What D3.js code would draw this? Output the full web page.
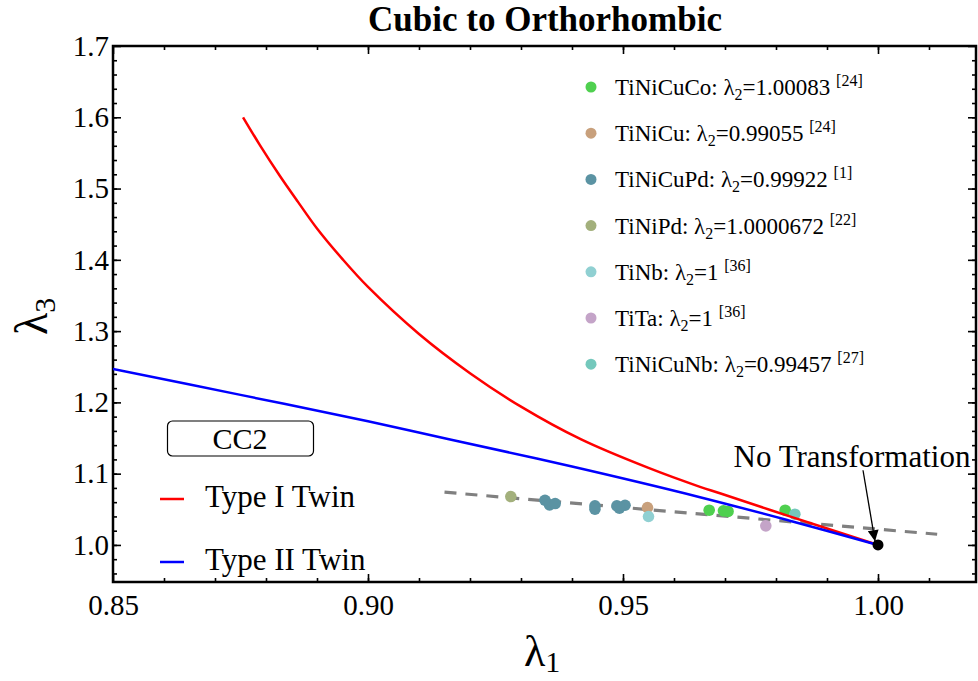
<!DOCTYPE html>
<html>
<head>
<meta charset="utf-8">
<title>Cubic to Orthorhombic</title>
<script src="https://cdn.jsdelivr.net/npm/d3@7"></script>
<style>
    body{ margin:0; background:#fff; }
    svg text{ font-family:"Liberation Serif","Times New Roman",serif; fill:#000; }
</style>
</head>
<body>
<svg id="chart" width="978" height="681"></svg>
<script>

// curves
var typeI_l1  = [0.8755, 0.8788, 0.8827, 0.8863, 0.890, 0.895, 0.900, 0.910, 0.920, 0.930, 0.9418, 0.955, 0.9651, 0.9690, 0.9827, 1.0];
var typeI_l3  = [1.600, 1.561, 1.518, 1.481, 1.444, 1.401, 1.362, 1.296, 1.241, 1.194, 1.148, 1.108, 1.0815, 1.0725, 1.040, 1.0];
var typeII_l1 = [0.85, 0.875, 0.90, 0.9161, 0.94, 0.9651, 0.9827, 1.0];
var typeII_l3 = [1.247, 1.2105, 1.1735, 1.148, 1.110, 1.067, 1.034, 1.0];

// dashed fit line
var fit_l1 = [0.9150, 1.0116];
var fit_l3 = [1.074, 1.015];

// legend
var alloys  = ["TiNiCuCo", "TiNiCu", "TiNiCuPd", "TiNiPd", "TiNb", "TiTa", "TiNiCuNb"];
var lambda2 = ["1.00083", "0.99055", "0.99922", "1.0000672", "1", "1", "0.99457"];
var refs    = ["24", "24", "1", "22", "36", "36", "27"];
var colors  = ["#4fd04f", "#c8a07c", "#5b93a3", "#a3b07c", "#90d0d2", "#c4a4c8", "#74c8bc"];

// measured points, one list per alloy
var pts_l1 = [
    [0.9669, 0.9697, 0.9706, 0.9818],
    [0.9548],
    [0.9347, 0.9356, 0.9367, 0.9445, 0.9445, 0.9488, 0.9504, 0.9493],
    [0.9280],
    [0.9550],
    [0.9780],
    [0.9837]
];
var pts_l3 = [
    [1.0487, 1.0478, 1.0470, 1.0487],
    [1.0525],
    [1.0627, 1.0562, 1.0581, 1.0548, 1.0501, 1.0548, 1.0557, 1.0515],
    [1.0679],
    [1.0399],
    [1.0268],
    [1.0431]
];

var xTicks = [0.85, 0.90, 0.95, 1.00];
var yTicks = [1.0, 1.1, 1.2, 1.3, 1.4, 1.5, 1.6, 1.7];

var mLeft = 113, mRight = 976, mTop = 46, mBottom = 582;
var serif = '"Liberation Serif","Times New Roman",serif';

var x = d3.scaleLinear().domain([0.85, 0.85 + (mRight - mLeft) / 5100]).range([mLeft, mRight]);
var y = d3.scaleLinear().domain([0.948, 1.7]).range([mBottom, mTop]);

var svg = d3.select('#chart');

// title
svg.append('text')
    .attr('x', 545).attr('y', 31)
    .attr('text-anchor', 'middle')
    .style('font-size', '35px').style('font-weight', 'bold')
    .text('Cubic to Orthorhombic');

// axes, ticks pointing inward
var xMinor = d3.range(0.86, 1.0195, 0.01);
var yMinor = d3.range(0.96, 1.70, 0.02);

function frameAxis(axisFn, scale, major, minor, pos, fmt, labels){
    var gm = svg.append('g').attr('transform', pos)
        .call(axisFn(scale).tickValues(minor).tickSize(-4).tickFormat(''));
    var g = svg.append('g').attr('transform', pos)
        .attr('font-family', serif).attr('font-size', 29)
        .call(axisFn(scale).tickValues(major).tickSize(-8).tickFormat(labels ? d3.format(fmt) : ''));
    [gm, g].forEach(function(s){
        s.selectAll('.domain').remove();
        s.selectAll('.tick line').attr('stroke', '#000').attr('stroke-width', 1.6);
    });
    g.selectAll('.tick text').style('font-family', serif).style('font-size', '29px');
    return g;
}

var gx = frameAxis(d3.axisBottom, x, xTicks, xMinor, 'translate(0,' + mBottom + ')', '.2f', true);
gx.selectAll('.tick text').attr('y', 33).attr('dy', 0);
frameAxis(d3.axisTop, x, xTicks, xMinor, 'translate(0,' + mTop + ')', '.2f', false);
var gy = frameAxis(d3.axisLeft, y, yTicks, yMinor, 'translate(' + mLeft + ',0)', '.1f', true);
gy.selectAll('.tick text').attr('x', -4);
frameAxis(d3.axisRight, y, yTicks, yMinor, 'translate(' + mRight + ',0)', '.1f', false);

svg.append('rect')
    .attr('x', mLeft).attr('y', mTop)
    .attr('width', mRight - mLeft).attr('height', mBottom - mTop)
    .attr('fill', 'none').attr('stroke', '#000').attr('stroke-width', 2.5);

// axis labels
var xl = svg.append('text').attr('x', 524).attr('y', 666).style('font-size', '44px');
xl.append('tspan').text('λ');
xl.append('tspan').attr('dy', 6).style('font-size', '30px').text('1');

var yl = svg.append('text')
    .attr('transform', 'translate(47,335) rotate(-90)')
    .style('font-size', '46px');
yl.append('tspan').text('λ');
yl.append('tspan').attr('dy', 8).style('font-size', '30px').text('3');

// plot area
svg.append('clipPath').attr('id', 'clip')
    .append('rect').attr('x', mLeft).attr('y', mTop).attr('width', mRight - mLeft).attr('height', mBottom - mTop);
var plot = svg.append('g').attr('clip-path', 'url(#clip)');

var line = d3.line().x(function(d){ return x(d[0]) }).y(function(d){ return y(d[1]) }).curve(d3.curveCatmullRom.alpha(0.5));

plot.append('path')
    .datum(d3.zip(fit_l1, fit_l3))
    .attr('d', d3.line().x(function(d){ return x(d[0]) }).y(function(d){ return y(d[1]) }))
    .attr('fill', 'none').attr('stroke', '#808080').attr('stroke-width', 3.2)
    .attr('stroke-dasharray', '12,9');

// points
alloys.forEach(function(name, i){
    plot.selectAll(null)
        .data(d3.zip(pts_l1[i], pts_l3[i]))
        .enter().append('circle')
        .attr('cx', function(d){ return x(d[0]) })
        .attr('cy', function(d){ return y(d[1]) })
        .attr('r', 5.8)
        .attr('fill', colors[i]);
});

plot.append('path')
    .datum(d3.zip(typeI_l1, typeI_l3))
    .attr('d', line)
    .attr('fill', 'none').attr('stroke', '#ff0000').attr('stroke-width', 2.5);

plot.append('path')
    .datum(d3.zip(typeII_l1, typeII_l3))
    .attr('d', line)
    .attr('fill', 'none').attr('stroke', '#0000ff').attr('stroke-width', 2.5);

// no transformation point + arrow
plot.append('circle').attr('cx', x(1.0)).attr('cy', y(1.0)).attr('r', 5.5).attr('fill', '#000');

var arrowFrom = [0.99706, 1.1048], arrowTo = [0.99941, 1.0053];
svg.append('defs').append('marker')
    .attr('id', 'head').attr('viewBox', '0 0 10 10')
    .attr('refX', 10).attr('refY', 5)
    .attr('markerWidth', 13).attr('markerHeight', 11)
    .attr('markerUnits', 'userSpaceOnUse')
    .attr('orient', 'auto')
    .append('path').attr('d', 'M0,0L10,5L0,10Z').attr('fill', '#000');

svg.append('line')
    .attr('x1', x(arrowFrom[0])).attr('y1', y(arrowFrom[1]))
    .attr('x2', x(arrowTo[0])).attr('y2', y(arrowTo[1]))
    .attr('stroke', '#000').attr('stroke-width', 1.3)
    .attr('marker-end', 'url(#head)');

svg.append('text')
    .attr('x', 852).attr('y', 467)
    .attr('text-anchor', 'middle')
    .style('font-size', '31px')
    .text('No Transformation');

// CC2 box + twin legend
svg.append('rect')
    .attr('x', 167.5).attr('y', 421).attr('width', 146).attr('height', 35)
    .attr('rx', 5).attr('fill', '#fff').attr('stroke', '#000').attr('stroke-width', 1.2);
svg.append('text')
    .attr('x', 240).attr('y', 449).attr('text-anchor', 'middle')
    .style('font-size', '30px').text('CC2');

var twinNames = ['Type I Twin', 'Type II Twin'];
var twinColors = ['#ff0000', '#0000ff'];
var twinY = [499, 562];
twinNames.forEach(function(t, i){
    svg.append('line')
        .attr('x1', 160).attr('x2', 184).attr('y1', twinY[i]).attr('y2', twinY[i])
        .attr('stroke', twinColors[i]).attr('stroke-width', 2.5);
    svg.append('text')
        .attr('x', 205).attr('y', twinY[i] + 8)
        .style('font-size', '31px').text(t);
});

// alloy legend
alloys.forEach(function(name, i){
    var yy = 87 + i * 46.2;
    svg.append('circle').attr('cx', 591).attr('cy', yy).attr('r', 5.5).attr('fill', colors[i]);
    var t = svg.append('text').attr('x', 615).attr('y', yy + 8).style('font-size', '23px');
    t.append('tspan').text(name + ': λ');
    t.append('tspan').attr('dy', 5).style('font-size', '16px').text('2');
    t.append('tspan').attr('dy', -5).text('=' + lambda2[i] + ' ');
    t.append('tspan').attr('dy', -9).style('font-size', '16px').text('[' + refs[i] + ']');
});

</script>
</body>
</html>
